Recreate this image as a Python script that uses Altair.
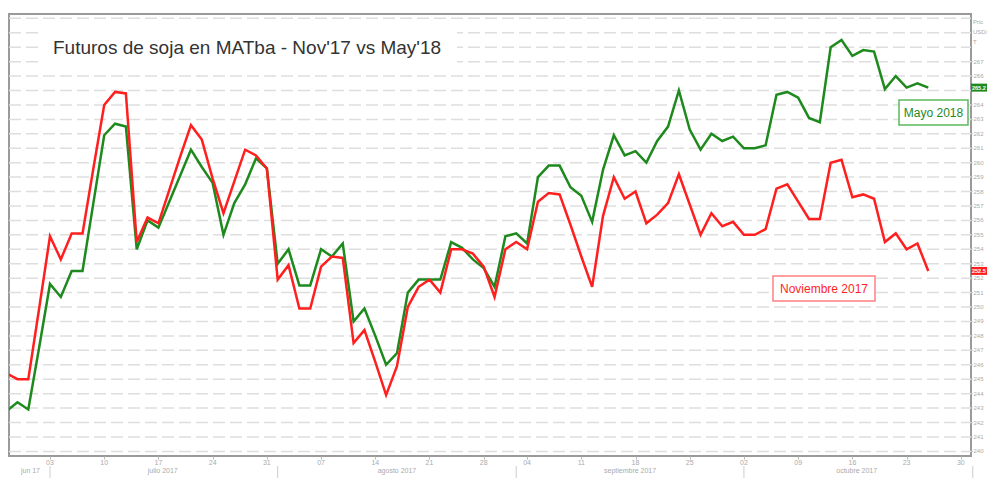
import altair as alt
import pandas as pd

# ---------------- data ----------------
trading_day = list(range(-4, 82))  # 0 = 03 jul 2017, trading-day index

noviembre_2017 = [245.4, 245.0, 245.0, 249.9, 254.9, 253.3, 255.1, 255.1, 259.6, 264.0,
                  264.9, 264.8, 254.5, 256.2, 255.8, 258.1, 260.4, 262.6, 261.6, 258.9,
                  256.5, 258.7, 260.9, 260.5, 259.6, 251.9, 252.9, 249.9, 249.9, 252.8,
                  253.5, 253.4, 247.5, 248.4, 246.2, 243.9, 245.9, 250.0, 251.4, 251.9,
                  251.0, 254.0, 254.0, 253.7, 252.8, 250.7, 254.0, 254.5, 254.0, 257.3,
                  257.9, 257.8, 255.7, 253.5, 251.4, 256.3, 259.0, 257.5, 258.0, 255.8,
                  256.4, 257.2, 259.2, 257.1, 255.0, 256.5, 255.6, 255.9, 255.0, 255.0,
                  255.4, 258.2, 258.5, 257.3, 256.1, 256.1, 260.0, 260.2, 257.6, 257.8,
                  257.5, 254.5, 255.1, 254.0, 254.4, 252.5]

mayo_2018 = [242.8, 243.4, 242.9, 247.2, 251.6, 250.7, 252.5, 252.5, 257.2, 261.9,
             262.7, 262.5, 254.0, 256.0, 255.5, 257.3, 259.1, 260.9, 259.7, 258.6,
             255.0, 257.2, 258.5, 260.3, 259.6, 253.0, 254.0, 251.5, 251.5, 254.0,
             253.5, 254.4, 249.0, 249.9, 248.0, 246.0, 246.8, 251.0, 251.9, 251.9,
             251.9, 254.5, 254.1, 253.3, 252.7, 251.4, 254.9, 255.1, 254.4, 259.0,
             259.8, 259.8, 258.3, 257.7, 255.9, 259.5, 261.9, 260.5, 260.8, 260.0,
             261.5, 262.5, 265.0, 262.3, 260.9, 262.0, 261.5, 261.8, 261.0, 261.0,
             261.2, 264.7, 264.9, 264.5, 263.1, 262.8, 268.0, 268.5, 267.4, 267.8,
             267.7, 265.1, 266.0, 265.2, 265.5, 265.2]

series_names = ["Noviembre 2017", "Mayo 2018"]
series_colors = ["#ff1f1f", "#1e8a1e"]
badge_colors = ["#e00000", "#1a7a1a"]

day_ticks = [0, 5, 10, 15, 20, 25, 30, 35, 40, 44, 49, 54, 59, 64, 69, 74, 79, 84]
day_labels = ["03", "10", "17", "24", "31", "07", "14", "21", "28",
              "04", "11", "18", "25", "02", "09", "16", "23", "30"]
month_names = ["jun 17", "julio 2017", "agosto 2017", "septiembre 2017", "octubre 2017"]
month_centers = [-1.8, 10.4, 32.0, 53.5, 74.4]
month_bounds = [0, 21, 43, 64, 85.1]

price_grid = list(range(240, 271))
price_labels = list(range(240, 268))
unit_lines = ["Pric", "USD/", "T"]
title_text = "Futuros de soja en MATba - Nov'17 vs May'18"

# ---------------- layout ----------------
W, H = 962, 442
x_dom = [-3.78, 84.94]
y_dom = [239.68, 270.3]
FONT = "Liberation Sans"

rows = []
for name, vals in zip(["Mayo 2018", "Noviembre 2017"], [mayo_2018, noviembre_2017]):
    for k, v in zip(trading_day, vals):
        rows.append({"k": k, "v": v, "s": name})
df = pd.DataFrame(rows)

xs = alt.Scale(domain=x_dom, nice=False, zero=False)
ys = alt.Scale(domain=y_dom, nice=False, zero=False)
cs = alt.Scale(domain=series_names, range=series_colors)

one = pd.DataFrame({"a": [0]})

grid = alt.Chart(pd.DataFrame({"p": price_grid})).mark_rule(
    color="#dedede", strokeWidth=1.5, strokeDash=[12, 5]).encode(
    y=alt.Y("p:Q", scale=ys, axis=None), x=alt.value(0), x2=alt.value(W))

last_vals = [noviembre_2017[-1], mayo_2018[-1]]
shown_labels = [p for p in price_labels if min(abs(p - lv) for lv in last_vals) > 0.45]
ylab_df = pd.DataFrame({"p": shown_labels, "t": [str(p) for p in shown_labels]})
ytick = alt.Chart(pd.DataFrame({"p": price_labels})).mark_rule(color="#cccccc").encode(
    y=alt.Y("p:Q", scale=ys), x=alt.value(W), x2=alt.value(W + 2))
ylab = alt.Chart(ylab_df).mark_text(align="left", baseline="middle", fontSize=6,
                                    font=FONT, color="#aaaaaa").encode(
    y=alt.Y("p:Q", scale=ys), x=alt.value(W + 2.5), text="t:N")

lines = alt.Chart(df).mark_line(strokeWidth=2.5, clip=True).encode(
    x=alt.X("k:Q", scale=xs,
            axis=alt.Axis(values=day_ticks, labels=False, ticks=True, tickSize=3,
                          tickColor="#bbbbbb", domain=False, grid=False, title=None)),
    y=alt.Y("v:Q", scale=ys, axis=None),
    color=alt.Color("s:N", scale=cs, legend=None),
    detail="s:N",
)

title_box = alt.Chart(one).mark_rect(fill="white").encode(
    x=alt.value(33), x2=alt.value(448), y=alt.value(14), y2=alt.value(54))
title = alt.Chart(one).mark_text(align="left", baseline="middle", fontSize=19,
                                 font=FONT, color="#333333").encode(
    x=alt.value(44), y=alt.value(34), text=alt.value(title_text))

# series label boxes
may_box = alt.Chart(one).mark_rect(fill="white", stroke="#5cb85c", strokeWidth=1.5).encode(
    x=alt.value(890), x2=alt.value(959), y=alt.value(86), y2=alt.value(111))
may_txt = alt.Chart(one).mark_text(fontSize=12, font=FONT, color="#1e8a1e").encode(
    x=alt.value(924.5), y=alt.value(99), text=alt.value("Mayo 2018"))
nov_box = alt.Chart(one).mark_rect(fill="white", stroke="#ff8080", strokeWidth=1.5).encode(
    x=alt.value(764), x2=alt.value(866), y=alt.value(262), y2=alt.value(287))
nov_txt = alt.Chart(one).mark_text(fontSize=12, font=FONT, color="#ff1f1f").encode(
    x=alt.value(815), y=alt.value(275), text=alt.value("Noviembre 2017"))

# last-value badges on the right axis
last = pd.DataFrame({"s": series_names, "v": last_vals,
                     "lab": [f"{v:.1f}" for v in last_vals]})
badge = alt.Chart(last).mark_tick(orient="horizontal", thickness=8, size=16, opacity=1).encode(
    x=alt.value(W + 8), y=alt.Y("v:Q", scale=ys),
    color=alt.Color("s:N", scale=alt.Scale(domain=series_names, range=badge_colors), legend=None))
badge_txt = alt.Chart(last).mark_text(align="left", baseline="middle", fontSize=5.5,
                                      fontWeight="bold", font=FONT, color="white").encode(
    x=alt.value(W + 1), y=alt.Y("v:Q", scale=ys), text="lab:N")

# unit text at top of price axis
units = alt.Chart(pd.DataFrame({"t": unit_lines, "yy": [8, 18, 28]})).mark_text(
    align="left", baseline="middle", fontSize=6, font=FONT, color="#aaaaaa").encode(
    x=alt.value(W + 2), y=alt.Y("yy:Q", scale=None), text="t:N")

# bottom date labels
days_df = pd.DataFrame({"k": day_ticks, "lab": day_labels})
day_txt = alt.Chart(days_df).mark_text(fontSize=7, font=FONT, color="#aaaaaa",
                                       baseline="middle").encode(
    x=alt.X("k:Q", scale=xs), y=alt.value(449), text="lab:N")
months_df = pd.DataFrame({"k": month_centers, "lab": month_names})
month_txt = alt.Chart(months_df).mark_text(fontSize=7, font=FONT, color="#aaaaaa",
                                           baseline="middle").encode(
    x=alt.X("k:Q", scale=xs), y=alt.value(457), text="lab:N")
seps = alt.Chart(pd.DataFrame({"k": month_bounds})).mark_rule(color="#cccccc").encode(
    x=alt.X("k:Q", scale=xs), y=alt.value(452), y2=alt.value(464))

chart = alt.layer(
    grid, lines, title_box, title, may_box, may_txt, nov_box, nov_txt,
    ytick, ylab, badge, badge_txt, units, day_txt, month_txt, seps
).properties(
    width=W, height=H,
    autosize=alt.AutoSizeParams(type="none"),
    padding={"left": 1, "top": 6, "right": 16, "bottom": 22},
    background="white",
).configure_view(stroke="#9a9a9a", strokeWidth=2)

chart.save("out.html", embed_options={"renderer": "svg", "actions": False})
